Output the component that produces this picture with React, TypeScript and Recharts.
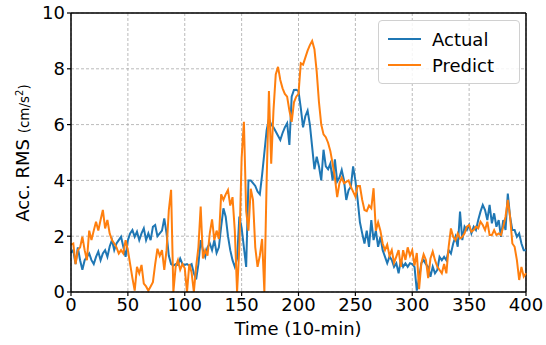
import React from 'react';
import {
  LineChart,
  Line,
  XAxis,
  YAxis,
  CartesianGrid,
  ReferenceLine,
} from 'recharts';

const FONT = '"DejaVu Sans", sans-serif';
const STEP = 2; // one sample every 2 time units (10-min)

// Acc. RMS, t = 0, 2, 4, ... 400
const ACTUAL = [
  1.4, 1.5, 1.0, 1.6, 1.14, 0.8, 1.14, 1.26, 1.38, 1.14,
  1.0, 1.26, 1.45, 1.14, 1.38, 1.5, 1.26, 1.63, 1.86, 1.5,
  1.74, 1.86, 1.98, 1.62, 1.26, 1.86, 2.1, 2.22, 1.98, 2.16,
  1.86, 2.1, 2.28, 1.86, 2.1, 1.86, 2.34, 2.4, 2.0, 2.1,
  2.2, 2.64, 2.1, 1.3, 1.0, 0.95, 1.0, 0.97, 1.2, 1.0,
  0.97, 1.0, 0.95, 1.0, 0.67, 0.45, 1.0, 1.86, 1.5, 1.26,
  1.6, 1.74, 1.5, 1.86, 1.4, 1.6, 2.34, 3.0, 2.7, 2.0,
  1.5, 1.14, 0.9, 1.2, 2.7, 2.3, 1.6, 0.9, 4.0, 4.0,
  3.9, 3.8, 3.6, 3.5, 4.2, 5.0, 5.8, 6.2, 6.0, 5.9,
  5.75, 5.6, 5.45, 5.7, 5.9, 6.05, 5.27, 7.0, 7.24, 7.25,
  7.2, 6.6, 5.9, 6.3, 6.5, 6.0, 5.2, 4.4, 4.85, 4.5,
  4.0, 5.1, 4.5, 4.4, 4.6, 4.0, 4.75, 3.96, 4.1, 4.37,
  4.0, 3.3, 3.65, 3.77, 4.5, 4.0, 3.3, 2.5, 2.1, 1.74,
  2.2, 1.62, 2.58, 1.86, 2.2, 1.62, 1.98, 1.5, 1.27, 1.03,
  1.27, 1.15, 0.9, 1.03, 0.67, 1.15, 0.9, 1.03, 0.9, 1.03,
  1.0, 0.9, 0.05, 0.5, 1.03, 1.15, 1.0, 0.9, 0.55, 0.91,
  0.67, 0.79, 1.26, 1.14, 1.26, 1.14, 1.5, 1.38, 1.74, 1.98,
  1.62, 2.88, 1.86, 2.34, 2.22, 2.4, 2.1, 2.34, 2.22, 2.58,
  2.88, 3.12, 2.94, 2.58, 3.12, 2.46, 2.82, 2.34, 2.58, 1.98,
  2.58, 2.22, 3.53, 2.7, 2.22, 2.22, 1.98, 2.1, 1.74, 1.5,
  1.5,
];

const PREDICT = [
  1.7, 1.74, 1.0, 1.5, 1.6, 1.98, 1.5, 1.14, 2.2, 1.86,
  2.2, 2.52, 2.2, 2.58, 2.94, 2.28, 2.58, 2.1, 1.86, 1.74,
  1.6, 1.38, 1.5, 1.38, 1.86, 1.5, 1.0, 0.5, 0.05, 0.9,
  0.67, 0.97, 0.3, 0.2, 0.05, 0.2, 0.35, 1.0, 1.55, 1.3,
  1.5, 0.79, 1.5, 2.94, 3.66, 0.0, 0.9, 1.14, 0.8, 1.0,
  0.85, 0.0, 1.0, 0.7, 0.0, 0.9, 1.6, 3.06, 1.2, 1.5,
  1.3, 2.1, 2.6, 1.86, 2.2, 1.9, 3.5, 3.3, 3.5, 3.66,
  3.1, 3.4, 2.2, 0.0, 1.6, 4.8, 6.1, 2.9, 2.2, 3.7,
  3.3, 1.6, 0.9, 1.3, 1.9, 0.0, 4.0, 7.2, 4.6, 6.5,
  7.8, 8.07, 7.6, 7.3, 7.1, 7.0, 6.5, 6.1, 6.8, 7.0,
  7.1, 8.2, 8.15, 8.4, 8.65, 8.85, 9.0, 8.7, 7.9, 6.8,
  6.0, 5.65, 5.55, 5.35, 5.05, 4.6, 4.1, 3.4, 3.9, 4.1,
  3.9, 3.95, 4.0, 3.78, 3.6, 3.42, 3.8, 3.8, 3.3, 2.94,
  2.9, 3.1, 3.0, 3.72, 2.2, 2.5, 2.2, 1.74, 1.5, 1.7,
  1.3, 1.5, 1.05, 1.27, 1.5, 0.9, 1.5, 1.15, 1.6, 1.3,
  1.5, 0.95, 1.4, 0.1, 1.03, 1.35, 1.15, 0.5, 1.2, 1.45,
  1.14, 0.91, 0.79, 0.67, 1.0, 0.67, 1.62, 2.28, 1.98, 1.86,
  2.1, 1.92, 1.98, 2.1, 2.34, 2.4, 2.16, 2.22, 2.34, 2.28,
  2.52, 2.4, 2.22, 2.52, 2.04, 2.04, 2.22, 2.04, 2.1, 2.04,
  2.34, 2.7, 3.3, 2.7, 1.74, 1.62, 1.14, 0.43, 0.9, 0.55,
  0.67,
];

const X_TICKS = [0, 50, 100, 150, 200, 250, 300, 350, 400];
const Y_TICKS = [0, 2, 4, 6, 8, 10];

const SERIES = [
  { key: 'actual', name: 'Actual', color: '#1f77b4' },
  { key: 'predict', name: 'Predict', color: '#ff7f0e' },
];

const data = ACTUAL.map((a, i) => ({ t: i * STEP, actual: a, predict: PREDICT[i] }));

const tickStyle = { fontSize: 18, fill: '#000', fontFamily: FONT };

function YLabel() {
  return (
    <text transform="translate(29,153) rotate(-90)" textAnchor="middle" fontFamily={FONT} fill="#000">
      <tspan fontSize={18}>Acc. RMS </tspan>
      <tspan fontSize={13.5}>(cm/s</tspan>
      <tspan fontSize={10} dy={-6}>2</tspan>
      <tspan fontSize={13.5} dy={6}>)</tspan>
    </text>
  );
}

function XLabel() {
  return (
    <text x={298} y={335} textAnchor="middle" fontFamily={FONT} fontSize={18} fill="#000">
      Time (10-min)
    </text>
  );
}

function LegendBox() {
  return (
    <div
      style={{
        position: 'absolute',
        left: 378,
        top: 20,
        width: 142,
        height: 64,
        boxSizing: 'border-box',
        border: '1px solid #d0d0d0',
        borderRadius: 4,
        background: 'rgba(255,255,255,0.85)',
        fontFamily: FONT,
        fontSize: 18,
        padding: '5px 0 0 9px',
      }}
    >
      {SERIES.map((s) => (
        <div key={s.key} style={{ display: 'flex', alignItems: 'center', height: 26 }}>
          <div style={{ width: 33, height: 2, background: s.color, marginRight: 11 }} />
          <span>{s.name}</span>
        </div>
      ))}
    </div>
  );
}

export default function App() {
  return (
    <div style={{ position: 'absolute', left: 0, top: 0, width: 546, height: 345, background: '#fff' }}>
      <LineChart
        width={546}
        height={345}
        data={data}
        margin={{ top: 13, right: 20, left: 21, bottom: 23 }}
      >
        <CartesianGrid stroke="#a8a8a8" strokeDasharray="3 2" strokeWidth={0.8} />
        <XAxis
          dataKey="t"
          type="number"
          domain={[0, 400]}
          ticks={X_TICKS}
          height={30}
          tick={tickStyle}
          tickSize={4}
          tickLine={{ stroke: '#000', strokeWidth: 1.2 }}
          axisLine={{ stroke: '#000', strokeWidth: 1.5 }}
          label={{ content: () => <XLabel /> }}
        />
        <YAxis
          type="number"
          domain={[0, 10]}
          ticks={Y_TICKS}
          width={50}
          tick={tickStyle}
          tickSize={4}
          tickLine={{ stroke: '#000', strokeWidth: 1.2 }}
          axisLine={{ stroke: '#000', strokeWidth: 1.5 }}
          label={{ content: () => <YLabel /> }}
        />
        <ReferenceLine y={10} stroke="#000" strokeWidth={1.5} />
        <ReferenceLine x={400} stroke="#000" strokeWidth={1.5} />
        {SERIES.map((s) => (
          <Line
            key={s.key}
            type="linear"
            dataKey={s.key}
            name={s.name}
            stroke={s.color}
            strokeWidth={2}
            dot={false}
            isAnimationActive={false}
          />
        ))}
      </LineChart>
      <LegendBox />
    </div>
  );
}
